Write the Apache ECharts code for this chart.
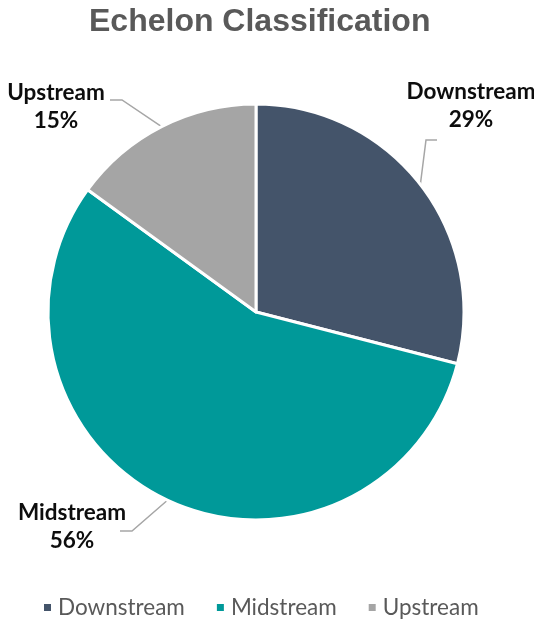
<!DOCTYPE html>
<html>
<head>
<meta charset="utf-8">
<style>
  html, body { margin: 0; padding: 0; background: #fff; }
  #chart { width: 534px; height: 620px; }
</style>
<script src="https://cdn.jsdelivr.net/npm/echarts@6/dist/echarts.min.js"></script>
</head>
<body>
<div id="chart"></div>
<script>
// Share of each echelon, in percent
const categories = ['Downstream', 'Midstream', 'Upstream'];
const shares = [29, 56, 15];
const colors = ['#44546A', '#009999', '#A5A5A5'];

// Label block centres and leader elbows (offsets from the label centre), by slice order
const labelSpots = [
  { x: 471, y: 106, elbow: [-45, 34], end: [-34, 34] },
  { x: 72, y: 527, elbow: [60, 4], end: [48, 4] },
  { x: 56, y: 107, elbow: [66, -7], end: [54, -7] }
];

const chart = echarts.init(document.getElementById('chart'));

chart.setOption({
  animation: false,
  title: {
    text: 'Echelon Classification',
    left: 84,
    top: 1,
    textStyle: {
      fontFamily: 'Liberation Sans, Arial, sans-serif',
      fontSize: 32,
      fontWeight: 'bold',
      color: '#595959'
    }
  },
  legend: {
    top: 591,
    left: 37,
    icon: 'rect',
    itemWidth: 9,
    itemHeight: 9,
    itemGap: 30,
    textStyle: {
      fontFamily: 'Lato, Open Sans, sans-serif',
      fontSize: 22.5,
      color: '#595959',
      padding: [0, 0, 0, 1]
    },
    data: categories
  },
  series: [{
    type: 'pie',
    center: [256, 312],
    radius: 208,
    startAngle: 90,
    clockwise: true,
    itemStyle: { borderColor: '#fff', borderWidth: 3 },
    label: {
      show: true,
      position: 'outside',
      formatter: p => p.name + '\n' + p.value + '%',
      fontFamily: 'Lato, Open Sans, sans-serif',
      fontWeight: 'bold',
      fontSize: 22.5,
      lineHeight: 28,
      color: '#0d0d0d',
      align: 'center',
      overflow: 'none'
    },
    labelLine: {
      show: true,
      length: 30,
      length2: 12,
      lineStyle: { color: '#A6A6A6', width: 1.5 }
    },
    labelLayout: params => {
      const s = labelSpots[params.dataIndex];
      const anchor = params.labelLinePoints ? params.labelLinePoints[0] : null;
      const out = { x: s.x, y: s.y, align: 'center', verticalAlign: 'middle' };
      if (anchor) {
        out.labelLinePoints = [
          anchor,
          [s.x + s.elbow[0], s.y + s.elbow[1]],
          [s.x + s.end[0], s.y + s.end[1]]
        ];
      }
      return out;
    },
    data: categories.map((name, i) => ({
      name,
      value: shares[i],
      itemStyle: { color: colors[i] }
    }))
  }]
});
</script>
</body>
</html>
